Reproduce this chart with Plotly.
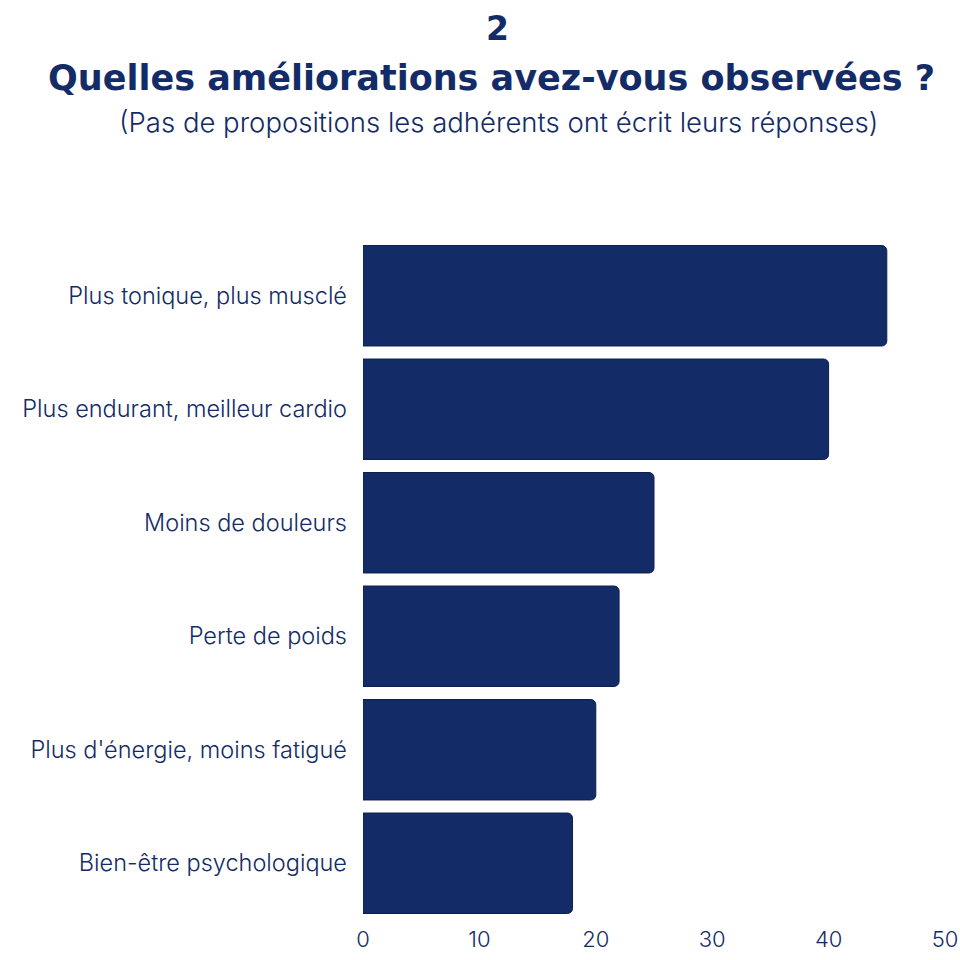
import plotly.graph_objects as go

categories = [
    "Plus tonique, plus musclé",
    "Plus endurant, meilleur cardio",
    "Moins de douleurs",
    "Perte de poids",
    "Plus d'énergie, moins fatigué",
    "Bien-être psychologique",
]
values = [45, 40, 25, 22, 20, 18]
x_ticks = [0, 10, 20, 30, 40, 50]

navy = "#132b66"
body_font = "Inter"
title_font = "DejaVu Sans"

W = H = 960
left, right, top, bottom = 363, 15, 239, 40

fig = go.Figure()
fig.add_trace(go.Bar(
    x=values,
    y=categories,
    orientation="h",
    marker=dict(color=navy, line=dict(color="#0d1f4f", width=1)),
    hoverinfo="x+y",
))

fig.update_layout(
    width=W,
    height=H,
    paper_bgcolor="white",
    plot_bgcolor="white",
    margin=dict(l=left, r=right, t=top, b=bottom),
    bargap=0.115,
    barcornerradius=5,
    showlegend=False,
    font=dict(family=body_font, color=navy),
    xaxis=dict(
        range=[0, 50],
        tickvals=x_ticks,
        showgrid=False,
        zeroline=False,
        showline=False,
        automargin=False,
        tickfont=dict(size=22, color=navy, weight=300),
        ticklabelstandoff=4,
    ),
    yaxis=dict(
        autorange="reversed",
        showgrid=False,
        showline=False,
        automargin=False,
        tickfont=dict(size=23.5, color=navy, weight=300),
        ticklabelstandoff=15,
    ),
)

# title lines, placed by pixel position on the page
plot_w = W - left - right
plot_h = H - top - bottom
titles = [
    ("<b>2</b>", title_font, 33, 400, 28, 497),
    ("<b>Quelles améliorations avez-vous observées ?</b>", title_font, 35, 400, 78, 491),
    ("(Pas de propositions les adhérents ont écrit leurs réponses)", body_font, 27.5, 300, 122, 498),
]
for text, family, size, weight, ypix, xpix in titles:
    fig.add_annotation(
        text=text,
        x=(xpix - left) / plot_w,
        y=(H - bottom - ypix) / plot_h,
        xref="paper", yref="paper",
        xanchor="center", yanchor="middle",
        showarrow=False,
        font=dict(size=size, color=navy, family=family, weight=weight),
    )

# drop the default page margin so the figure fills the window exactly
fig.write_html(
    "out.html",
    config={"displayModeBar": False},
    post_script="document.body.style.margin = '0';",
)
